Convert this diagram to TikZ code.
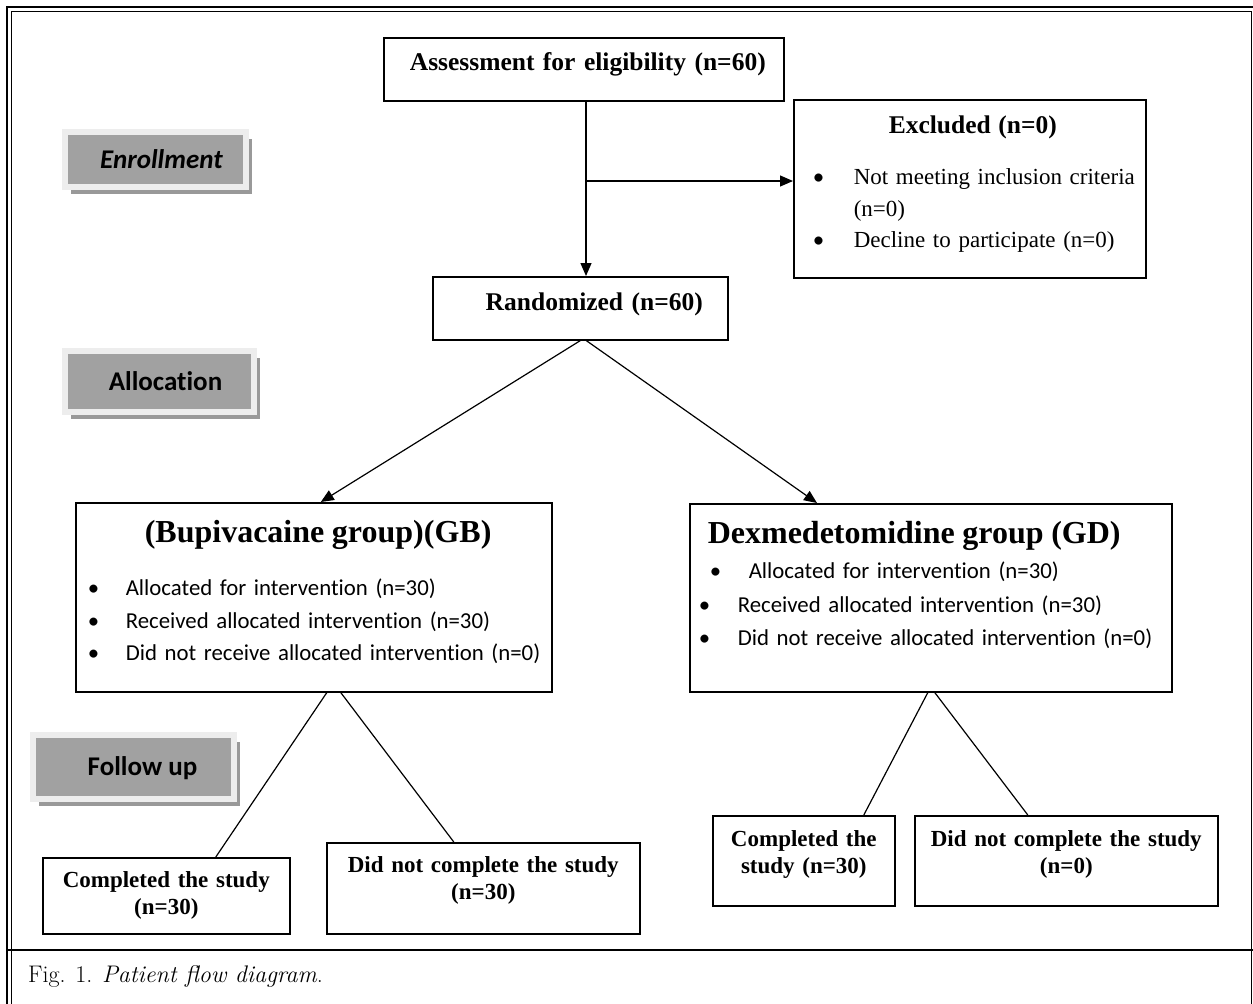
\documentclass[tikz,border=0pt]{standalone}
\usepackage{fontspec}
\newfontfamily\timesfont{Liberation Serif}
\newfontfamily\calibfont[Ligatures=NoCommon]{Carlito}
\usepackage{tikz}
\usetikzlibrary{arrows.meta, shadows}

\begin{document}
\begin{tikzpicture}[
    x=1pt, y=-1pt,
    box/.style={draw, line width=1.6pt, anchor=north west, inner sep=0pt},
    head/.style={font=\timesfont\bfseries\fontsize{25.5}{30}\selectfont, align=center},
    outcome/.style={box, font=\timesfont\bfseries\fontsize{23}{26.5}\selectfont, align=center},
    group/.style={box, font=\calibfont\fontsize{22.8}{32.5}\selectfont, align=left},
    stage/.style={fill=black!37, draw=black!7, line width=6pt, inner sep=0pt,
                  text height=17.4pt, text depth=0pt,
                  font=\calibfont\bfseries\fontsize{27}{30}\selectfont,
                  drop shadow={shadow xshift=6pt, shadow yshift=-7pt, fill=black!40, opacity=1}},
    arrow/.style={-{Triangle[length=13pt, width=11pt]}, line width=1.2pt},
    link/.style={line width=1.2pt}
  ]
    \useasboundingbox (0,0) rectangle (1253,1004);

    % Frame and caption
    \draw[line width=2.5pt] (7,1010) -- (7,7) -- (1258,7);
    \draw[line width=1pt] (11,1010) -- (11,11) -- (1251,11) -- (1251,1010);
    \draw[line width=2.5pt] (7,950) -- (1258,950);
    \node[anchor=base west, inner sep=0pt, font=\fontsize{24}{27}\selectfont] (caption) at (28,982)
        {Fig. 1. \textit{Patient flow diagram}.};

    % Stage labels
    \node[stage, minimum width=181pt, minimum height=55pt] (enrol)  at (155.5,159.5) {\hspace*{12pt}\textit{Enrollment}};
    \node[stage, minimum width=189pt, minimum height=61pt] (alloc)  at (159.5,381.5) {\hspace*{12pt}Allocation};
    \node[stage, minimum width=201pt, minimum height=64pt] (follow) at (133.5,767)   {\hspace*{18pt}Follow up};

    % Enrollment
    \node[box, head, text width=400pt, text height=33pt, text depth=30pt] (assess) at (383,37)
        {\hspace*{8pt}Assessment for eligibility (n=60)};
    \node[box, font=\timesfont\fontsize{23}{31.5}\selectfont, align=left,
          text width=352pt, text height=34pt, text depth=144pt] (excl) at (793,99)
        {\hspace*{95pt}{\bfseries\fontsize{25.5}{31.5}\selectfont Excluded (n=0)}\\[19.5pt]
         \hspace*{19pt}\makebox[41pt][l]{\calibfont\textbullet}Not meeting inclusion criteria\\
         \hspace*{60pt}(n=0)\\
         \hspace*{19pt}\makebox[41pt][l]{\calibfont\textbullet}Decline to participate (n=0)};
    \node[box, head, text width=295pt, text height=34pt, text depth=29pt] (rand) at (432,276)
        {\hspace*{28pt}Randomized (n=60)};

    % Allocation
    \node[group, text width=476pt, text height=40pt, text depth=149pt] (gb) at (75,502)
        {\hspace*{69pt}{\timesfont\bfseries\fontsize{32}{32.5}\selectfont (Bupivacaine group)(GB)}\\[20.5pt]
         \hspace*{12pt}\makebox[38pt][l]{\textbullet}Allocated for intervention (n=30)\\
         \hspace*{12pt}\makebox[38pt][l]{\textbullet}Received allocated intervention (n=30)\\
         \hspace*{12pt}\makebox[38pt][l]{\textbullet}Did not receive allocated intervention (n=0)};
    \node[group, font=\calibfont\fontsize{22.8}{33.5}\selectfont,
          text width=482pt, text height=40pt, text depth=148pt] (gd) at (689,503)
        {\hspace*{18pt}{\timesfont\bfseries\fontsize{32}{33.5}\selectfont Dexmedetomidine group (GD)}\\[1.5pt]
         \hspace*{20pt}\makebox[39pt][l]{\textbullet}Allocated for intervention (n=30)\\
         \hspace*{9pt}\makebox[39pt][l]{\textbullet}Received allocated intervention (n=30)\\
         \hspace*{9pt}\makebox[39pt][l]{\textbullet}Did not receive allocated intervention (n=0)};

    % Follow up
    \node[outcome, text width=247pt, text height=30pt, text depth=46pt] (gbDone) at (42,857)
        {Completed the study\\(n=30)};
    \node[outcome, text width=313pt, text height=30pt, text depth=61pt] (gbDrop) at (326,842)
        {Did not complete the study\\(n=30)};
    \node[outcome, text width=182pt, text height=31pt, text depth=59pt] (gdDone) at (712,815)
        {Completed the\\study (n=30)};
    \node[outcome, text width=303pt, text height=31pt, text depth=59pt] (gdDrop) at (914,815)
        {Did not complete the study\\(n=0)};

    % Flow arrows
    \coordinate (split) at (586,181);
    \draw[arrow] (split |- assess.south) -- (split |- rand.north);
    \draw[arrow] (split) -- (split -| excl.west);
    \draw[arrow] (rand.south) -- ([xshift=7pt]gb.north);
    \draw[arrow] ([xshift=6pt]rand.south) -- ([xshift=128pt]gd.north west);

    % Branches to outcomes
    \draw[link] ([xshift=13pt]gb.south) -- ([xshift=49.5pt]gbDone.north);
    \draw[link] ([xshift=27pt]gb.south) -- ([xshift=-29.5pt]gbDrop.north);
    \draw[link] ([xshift=-3pt]gd.south) -- ([xshift=60pt]gdDone.north);
    \draw[link] ([xshift=4pt]gd.south)  -- ([xshift=-38.5pt]gdDrop.north);
  \end{tikzpicture}
\end{document}
